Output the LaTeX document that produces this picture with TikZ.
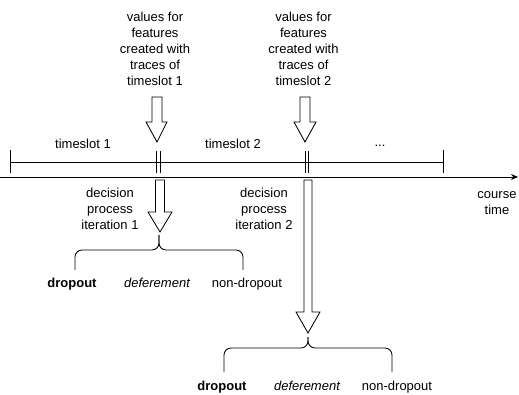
\documentclass[tikz,border=0pt]{standalone}
\usepackage{fontspec}
\setmainfont{Liberation Sans}
\usetikzlibrary{arrows.meta}
\begin{document}
\begin{tikzpicture}[x=1pt,y=-1pt,
  font=\fontsize{13}{16}\selectfont,
  txt/.style={align=center,inner sep=0pt},
  thin line/.style={line width=0.85pt},
  blockarrow/.style={draw,line width=0.85pt,fill=white,line join=miter},
  bracepath/.style={draw,line width=0.85pt,rounded corners=7pt}]
\useasboundingbox (0,0) rectangle (519,395);

% axis
\coordinate (axL) at (0,177);
\coordinate (axR) at (518,177);
\draw[thin line,-{Stealth[length=7pt,width=6pt]}] (axL) -- (axR);

% timeline bar
\coordinate (b0) at (10,162);
\coordinate (b3) at (443,162);
\draw[thin line] (b0) -- (b3);
\draw[thin line] (10,150) -- (10,173);
\draw[thin line] (443,150) -- (443,173);
\draw[thin line] (156.5,151) -- (156.5,173);
\draw[thin line] (160,151) -- (160,173);
\draw[thin line] (305.5,151) -- (305.5,173);
\draw[thin line] (308.5,151) -- (308.5,173);

% timeslot labels
\node[txt] (ts1) at (83,144) {timeslot 1};
\node[txt] (ts2) at (233,144) {timeslot 2};
\node[txt] (ts3) at (380,146) {...};

% upper texts
\node[txt] (v1) at (155,49) {values for\\features\\created with\\traces of\\timeslot 1};
\node[txt] (v2) at (303.5,49) {values for\\features\\created with\\traces of\\timeslot 2};

% upper block arrows
\draw[blockarrow] (152,97) -- (162,97) -- (162,122) -- (167,122) -- (157,142) -- (146,122) -- (152,122) -- cycle;
\draw[blockarrow] (300,97) -- (310,97) -- (310,122) -- (316,122) -- (305,142) -- (294,122) -- (300,122) -- cycle;

% lower block arrows
\draw[blockarrow] (155.5,180) -- (164.5,180) -- (164.5,212) -- (172,212) -- (160,232) -- (148,212) -- (155.5,212) -- cycle;
\draw[blockarrow] (304,180) -- (312,180) -- (312,312) -- (320,312) -- (308,333) -- (296,312) -- (304,312) -- cycle;

% decision texts
\node[txt] (d1) at (110,209) {decision\\process\\iteration 1};
\node[txt] (d2) at (264,209) {decision\\process\\iteration 2};

% course time
\node[txt] (ct) at (497,203) {course\\time};

% brace 1
\coordinate (t1) at (159,235);
\draw[bracepath] (75,270) -- (75,250) -- (159,250) -- (t1);
\draw[bracepath] (243,270) -- (243,250) -- (159,250) -- (t1);

% brace 2
\coordinate (t2) at (308,337);
\draw[bracepath] (224,372) -- (224,348) -- (308,348) -- (t2);
\draw[bracepath] (392,372) -- (392,348) -- (308,348) -- (t2);

% outcome labels
\node[txt,font=\fontsize{13}{16}\selectfont\bfseries] (o1a) at (72,284) {dropout};
\node[txt,font=\fontsize{13}{16}\selectfont\itshape] (o1b) at (157,283) {deferement};
\node[txt] (o1c) at (247,284) {non-dropout};

\node[txt,font=\fontsize{13}{16}\selectfont\bfseries] (o2a) at (222,387) {dropout};
\node[txt,font=\fontsize{13}{16}\selectfont\itshape] (o2b) at (307,386) {deferement};
\node[txt] (o2c) at (397,387) {non-dropout};
\end{tikzpicture}
\end{document}
